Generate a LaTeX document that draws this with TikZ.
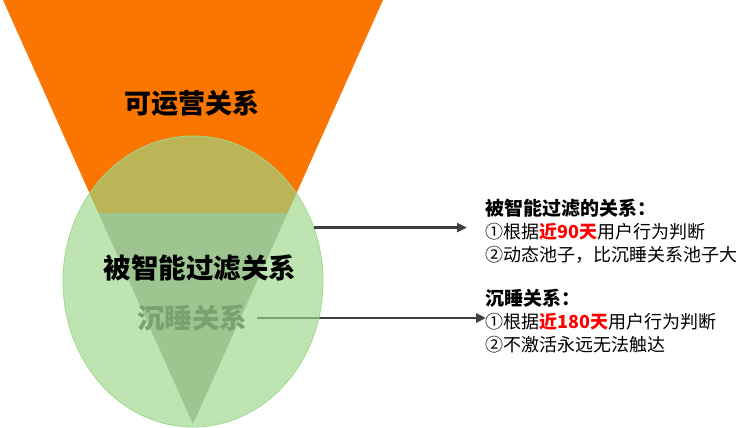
\documentclass[tikz,border=0pt]{standalone}
\usepackage{fontspec}
\setmainfont{Noto Sans CJK SC}
\usetikzlibrary{arrows.meta, shapes.geometric}

\definecolor{funnelorange}{RGB}{250,118,0}
\definecolor{sleepgrey}{RGB}{166,166,160}
\definecolor{poolgreen}{RGB}{155,215,135}
\definecolor{pooledge}{RGB}{160,215,140}
\definecolor{linegrey}{RGB}{64,64,64}
\definecolor{daysred}{RGB}{255,0,0}

\tikzset{
  bigtitle/.style={font=\fontsize{27.5}{30}\selectfont\bfseries, inner sep=0pt},
  desc/.style={font=\fontsize{18}{23}\selectfont, align=left, anchor=north west, inner sep=0pt},
  pointer/.style={draw=linegrey, line width=2.5pt, -{Triangle[length=10pt,width=9pt]}},
}
\newcommand{\days}[1]{\textcolor{daysred}{\textbf{#1}}}
\newcommand{\desctitle}[1]{{\fontsize{19}{23}\selectfont\bfseries #1}}

\begin{document}
\begin{tikzpicture}[x=1pt, y=-1pt]
    \useasboundingbox (0,0) rectangle (753,428);

    % Entonnoir : partie orange et pointe grise
    \fill[funnelorange] (3,0) -- (383,0) -- (287.6,213) -- (98.4,213) -- cycle;
    \fill[sleepgrey] (98.4,213) -- (287.6,213) -- (193,424) -- cycle;
    \node[bigtitle, font=\fontsize{27}{30}\selectfont\bfseries] (operable) at (192,103) {可运营关系};

    % Textes de droite
    \node[desc] (filterdesc) at (485,199) {\desctitle{被智能过滤的关系：}\\①根据\days{近90天}用户行为判断\\②动态池子，比沉睡关系池子大};
    \node[desc] (sleepdesc) at (485,289) {\desctitle{沉睡关系：}\\①根据\days{近180天}用户行为判断\\②不激活永远无法触达};

    % Relations en sommeil (sous le cercle)
    \node[bigtitle, text=linegrey] (sleep) at (192,318) {沉睡关系};
    \draw[pointer, shorten >=9pt] ([xshift=10pt]sleep.east) -- ([xshift=10pt]sleep.east -| sleepdesc.west);

    % Cercle
    \node[ellipse, minimum width=260pt, minimum height=291pt, inner sep=0pt,
          fill=poolgreen, fill opacity=0.65, draw=pooledge, line width=0.8pt] (pool) at (193,281.5) {};
    \draw[pointer, shorten >=18pt] (pool.24) -- (pool.24 -| filterdesc.west);

    \node[bigtitle] (filtered) at (200,268) {被智能过滤关系};
\end{tikzpicture}
\end{document}
